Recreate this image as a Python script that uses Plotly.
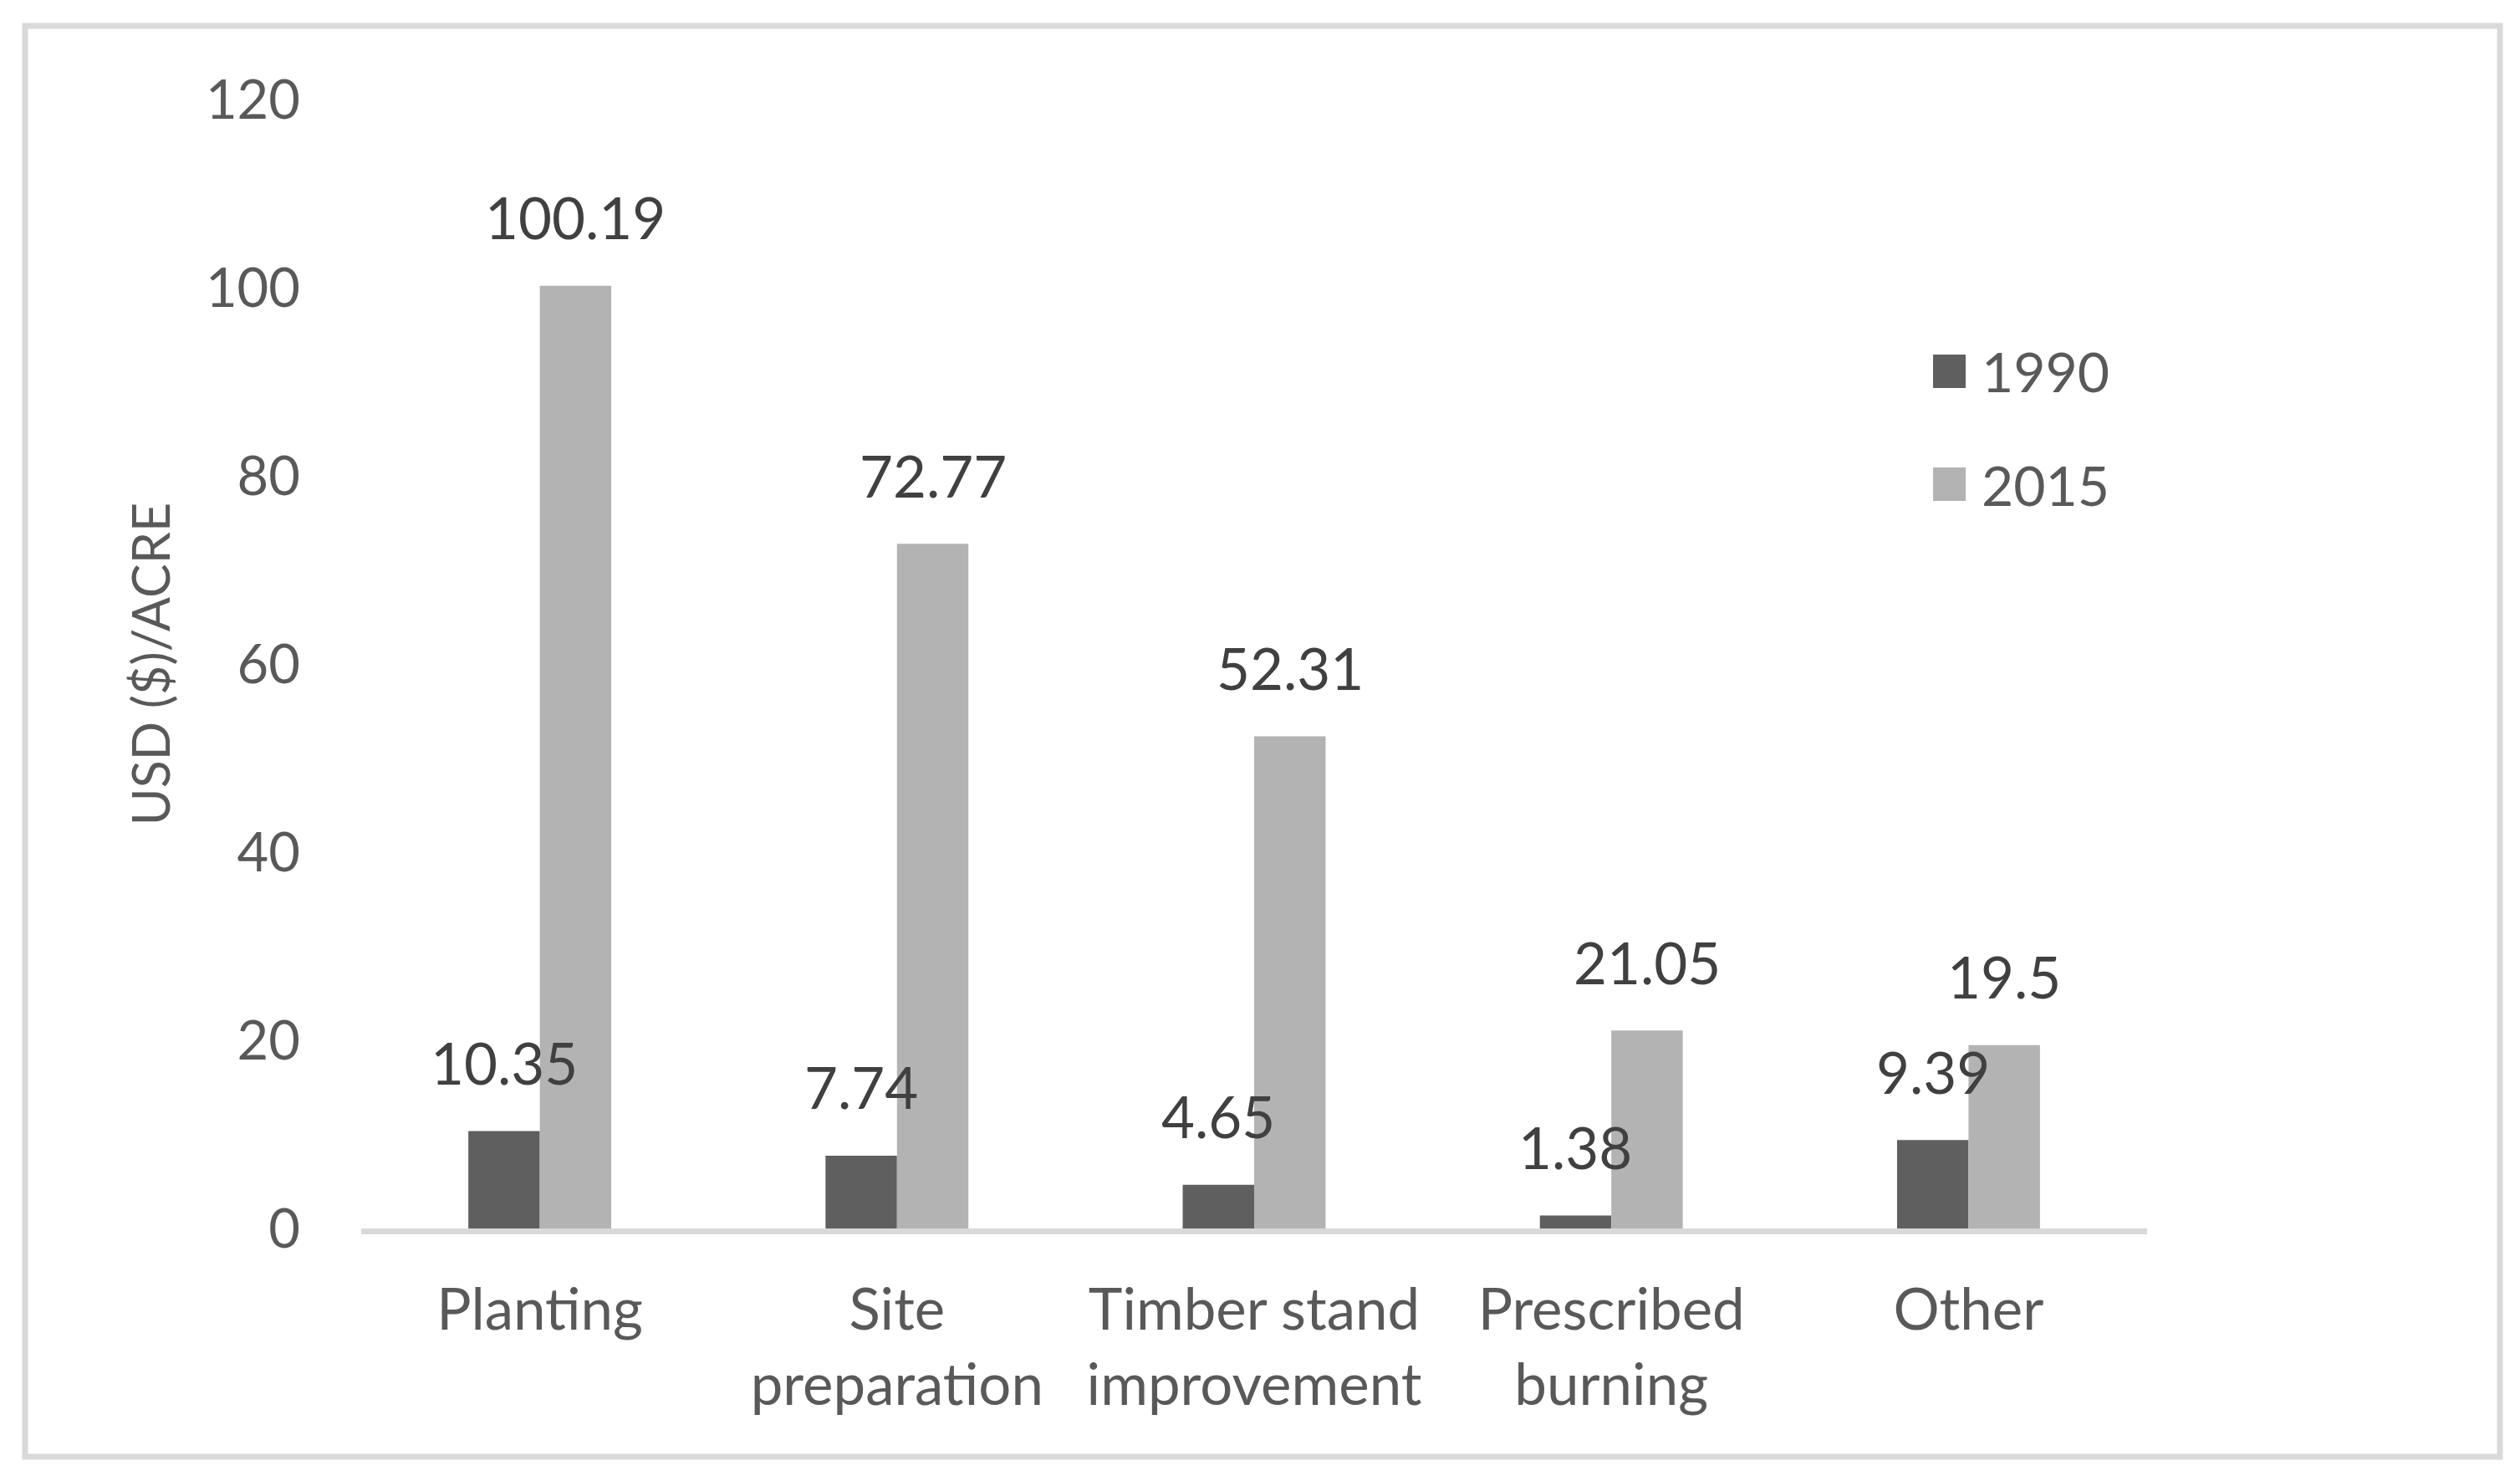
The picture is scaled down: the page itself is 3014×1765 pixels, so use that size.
import plotly.graph_objects as go

# ---- data ----
categories = ["Planting", "Site<br>preparation", "Timber stand<br>improvement",
              "Prescribed<br>burning", "Other"]
series_names = ["1990", "2015"]
values_1990 = [10.35, 7.74, 4.65, 1.38, 9.39]
values_2015 = [100.19, 72.77, 52.31, 21.05, 19.5]
y_tick_vals = [0, 20, 40, 60, 80, 100, 120]
y_title = "USD ($)/ACRE"

# ---- style / layout ----
W, H = 3014, 1765
ML, MR, MT, MB = 432, 446, 119, 296
PW, PH = W - ML - MR, H - MT - MB
BARGAP = 0.6
COL_1990 = "#5f5f5f"
COL_2015 = "#b3b3b3"
FONT = "Lato, 'Open Sans', sans-serif"
TICK_COL = "#595959"
LABEL_COL = "#404040"
BORDER_COL = "#d9d9d9"


def px_x(px):
    return (px - ML) / PW


def px_y(py):
    return (H - MB - py) / PH


fig = go.Figure()
fig.add_bar(x=categories, y=values_1990, name=series_names[0],
            marker=dict(color=COL_1990, line=dict(width=0)), showlegend=False)
fig.add_bar(x=categories, y=values_2015, name=series_names[1],
            marker=dict(color=COL_2015, line=dict(width=0)), showlegend=False)

# data labels
cat_px = PW / len(categories)
bar_px = cat_px * (1 - BARGAP) / 2
for series, off in ((values_1990, -0.5), (values_2015, 0.5)):
    for c, v in zip(categories, series):
        fig.add_annotation(x=c, y=v, xref="x", yref="y", text=f"{v:g}",
                           showarrow=False, xshift=off * bar_px, yshift=82,
                           xanchor="center", yanchor="middle",
                           font=dict(family=FONT, size=69, color=LABEL_COL))

# manual legend (large square swatches)
legend_rows = [(series_names[0], COL_1990, 444), (series_names[1], COL_2015, 579)]
for name, col, cy in legend_rows:
    fig.add_shape(type="rect", xref="paper", yref="paper",
                  x0=px_x(2312), x1=px_x(2351), y0=px_y(cy + 20), y1=px_y(cy - 20),
                  fillcolor=col, line=dict(width=0))
    fig.add_annotation(xref="paper", yref="paper", x=px_x(2368), y=px_y(cy),
                       text=name, showarrow=False, xanchor="left", yanchor="middle",
                       font=dict(family=FONT, size=66, color=TICK_COL))

# outer chart border
fig.add_shape(type="rect", xref="paper", yref="paper",
              x0=px_x(30), x1=px_x(2990), y0=px_y(1742), y1=px_y(31),
              line=dict(color=BORDER_COL, width=7), fillcolor="rgba(0,0,0,0)",
              layer="below")

fig.update_layout(
    width=W, height=H,
    margin=dict(l=ML, r=MR, t=MT, b=MB, autoexpand=False),
    paper_bgcolor="white", plot_bgcolor="white",
    barmode="group", bargap=BARGAP, bargroupgap=0,
    showlegend=False,
    font=dict(family=FONT, size=65, color=TICK_COL),
)
fig.update_xaxes(
    showline=True, linecolor=BORDER_COL, linewidth=7,
    showgrid=False, zeroline=False, ticks="",
    tickfont=dict(family=FONT, size=69, color=TICK_COL),
    ticklabelstandoff=31, automargin=False,
)
fig.update_yaxes(
    range=[0, 120], tickvals=y_tick_vals, ticktext=[str(v) for v in y_tick_vals],
    showline=False, showgrid=False, zeroline=False, ticks="",
    tickfont=dict(family=FONT, size=65, color=TICK_COL),
    ticklabelstandoff=72, automargin=False,
    title=dict(text=y_title, standoff=22,
               font=dict(family=FONT, size=61, color=TICK_COL)),
)

fig.write_html("out.html", config={"displayModeBar": False},
               post_script="document.body.style.margin='0';")
